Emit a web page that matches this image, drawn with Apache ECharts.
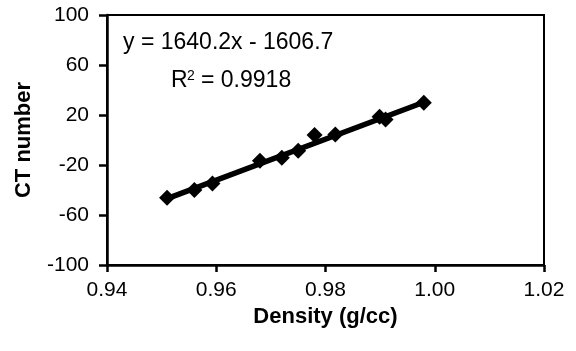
<!DOCTYPE html>
<html>
<head>
<meta charset="utf-8">
<style>
  html, body { margin: 0; padding: 0; background: #fff; }
  #chart { width: 576px; height: 351px; }
</style>
<script src="https://cdn.jsdelivr.net/npm/echarts@6/dist/echarts.min.js"></script>
</head>
<body>
<div id="chart"></div>
<script>
// measured points (density g/cc, CT number)
const density = [0.951, 0.956, 0.9593, 0.968, 0.972, 0.975, 0.978, 0.9818, 0.9899, 0.991, 0.998];
const ctNumber = [-46.2, -40, -34.7, -16.5, -14.1, -8.5, 4, 4.5, 18.7, 16.5, 29.8];

// linear fit shown on the chart
const slope = 1640.2;
const intercept = -1606.7;
const rSquared = "0.9918";

const xTicks = [0.94, 0.96, 0.98, 1.00, 1.02];
const yTicks = [-100, -60, -20, 20, 60, 100];

const font = "Liberation Sans, Arial, Helvetica, sans-serif";

const points = density.map((d, i) => [d, ctNumber[i]]);
const xMin = Math.min(...density);
const xMax = Math.max(...density);
const trend = [
  [xMin, slope * xMin + intercept],
  [xMax, slope * xMax + intercept],
];

const myChart = echarts.init(document.getElementById("chart"));
const option = {
  backgroundColor: "#fff",
  animation: false,
  grid: {
    left: 107,
    right: 32,
    top: 15,
    bottom: 86,
    show: true,
    borderColor: "#000",
    borderWidth: 2,
  },
  xAxis: {
    type: "value",
    min: xTicks[0],
    max: xTicks[xTicks.length - 1],
    interval: 0.02,
    name: "Density (g/cc)",
    nameLocation: "middle",
    nameGap: 38,
    nameTextStyle: { fontFamily: font, fontSize: 22, fontWeight: "bold", color: "#000" },
    axisLine: { onZero: false, lineStyle: { color: "#000", width: 2.5 } },
    axisTick: { length: 7, lineStyle: { color: "#000", width: 2.5 } },
    axisLabel: {
      margin: 15,
      fontFamily: font,
      fontSize: 21,
      color: "#000",
      formatter: (v) => v.toFixed(2),
    },
    splitLine: { show: false },
  },
  yAxis: {
    type: "value",
    min: yTicks[0],
    max: yTicks[yTicks.length - 1],
    interval: 40,
    name: "CT number",
    nameLocation: "middle",
    nameGap: 72,
    nameTextStyle: { fontFamily: font, fontSize: 22, fontWeight: "bold", color: "#000" },
    axisLine: { onZero: false, lineStyle: { color: "#000", width: 2.5 } },
    axisTick: { length: 8, lineStyle: { color: "#000", width: 2.5 } },
    axisLabel: { margin: 18, fontFamily: font, fontSize: 21, color: "#000" },
    splitLine: { show: false },
  },
  graphic: [
    {
      type: "text",
      left: 123,
      top: 31,
      style: {
        text: "y = " + slope + "x - " + Math.abs(intercept),
        font: "23px " + font,
        fill: "#000",
      },
    },
    {
      type: "text",
      left: 171,
      top: 69,
      style: { text: "R", font: "23px " + font, fill: "#000" },
    },
    {
      type: "text",
      left: 187,
      top: 69,
      style: { text: "2", font: "14px " + font, fill: "#000" },
    },
    {
      type: "text",
      left: 201,
      top: 69,
      style: { text: "= " + rSquared, font: "23px " + font, fill: "#000" },
    },
  ],
  series: [
    {
      name: "trend",
      type: "line",
      data: trend,
      symbol: "none",
      lineStyle: { color: "#000", width: 5.5 },
      z: 2,
    },
    {
      name: "CT",
      type: "scatter",
      data: points,
      symbol: "diamond",
      symbolSize: 16,
      itemStyle: { color: "#000", opacity: 1 },
      z: 3,
    },
  ],
};
myChart.setOption(option);
</script>
</body>
</html>
